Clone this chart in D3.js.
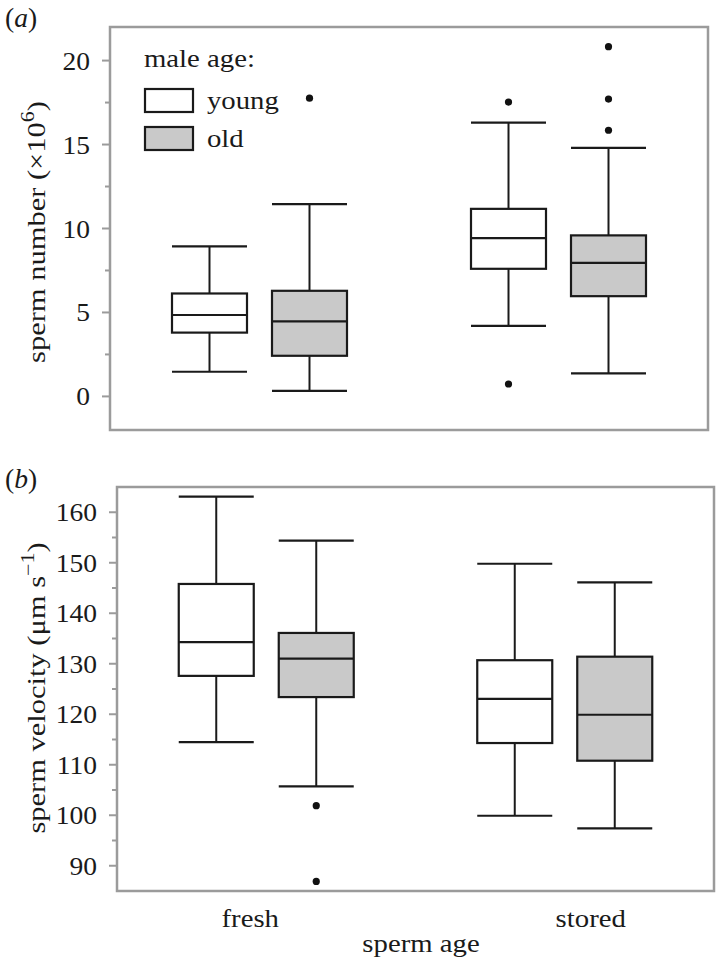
<!DOCTYPE html>
<html>
<head>
<meta charset="utf-8">
<script src="https://cdn.jsdelivr.net/npm/d3@7"></script>
<style>
  html, body { margin: 0; padding: 0; background: #fff; }
  svg { display: block; }
  text { font-family: "Liberation Serif", "Times New Roman", serif; fill: #1a1a1a; }
</style>
</head>
<body>
<script>
// ---------- DATA ----------
const categories = ["fresh", "stored"];
const groups = ["young", "old"];
// order of boxes: fresh-young, fresh-old, stored-young, stored-old
const boxCategory = ["fresh", "fresh", "stored", "stored"];
const boxGroup = ["young", "old", "young", "old"];

// (a) sperm number (x10^6)
const numberLow = [1.47, 0.33, 4.2, 1.37];
const numberQ1 = [3.8, 2.42, 7.6, 5.97];
const numberMedian = [4.85, 4.47, 9.43, 7.95];
const numberQ3 = [6.13, 6.29, 11.17, 9.59];
const numberHigh = [8.94, 11.45, 16.3, 14.8];
const numberOutliers = [[], [17.76], [17.53, 0.74], [20.83, 17.71, 15.85]];
const numberTicks = [0, 5, 10, 15, 20];
const numberMinorTicks = [2.5, 7.5, 12.5, 17.5];

// (b) sperm velocity (um/s)
const velocityLow = [114.5, 105.7, 99.9, 97.4];
const velocityQ1 = [127.6, 123.4, 114.3, 110.8];
const velocityMedian = [134.3, 131.0, 123.05, 119.9];
const velocityQ3 = [145.8, 136.1, 130.7, 131.4];
const velocityHigh = [163.1, 154.4, 149.8, 146.1];
const velocityOutliers = [[], [101.9, 86.9], [], []];
const velocityTicks = [90, 100, 110, 120, 130, 140, 150, 160];
const velocityMinorTicks = [95, 105, 115, 125, 135, 145, 155];

const legendLabels = ["young", "old"];
const xLabels = ["fresh", "stored"];
const xLabelShift = [-16, 26];

// ---------- STYLE ----------
const W = 718, H = 960;
const frameColor = "#9b9b9b";
const ink = "#1a1a1a";
const fills = { young: "#ffffff", old: "#c9c9c9" };
const FS = 25;

const svg = d3.select("body").append("svg").attr("width", W).attr("height", H);

function stext(parent, x, y, sx, rot, size) {
  return parent.append("text")
    .attr("transform", `translate(${x},${y}) rotate(${rot || 0}) scale(${sx},1)`)
    .attr("font-size", size || FS);
}

function panel(cfg) {
  const g = svg.append("g");
  const x = d3.scaleBand().domain(categories).range([cfg.x0, cfg.x1]).padding(0);
  const sub = d3.scaleBand().domain(groups).range([-100, 100]).padding(0);
  const y = d3.scaleLinear().domain(cfg.domain).range([cfg.y1, cfg.y0]);
  const bw = sub.bandwidth() * 0.75;

  // frame
  g.append("rect").attr("x", cfg.x0).attr("y", cfg.y0)
    .attr("width", cfg.x1 - cfg.x0).attr("height", cfg.y1 - cfg.y0)
    .attr("fill", "none").attr("stroke", frameColor).attr("stroke-width", 2.5);

  // ticks
  g.selectAll(".maj").data(cfg.ticks).enter().append("line")
    .attr("x1", cfg.x0 - 8).attr("x2", cfg.x0).attr("y1", d => y(d)).attr("y2", d => y(d))
    .attr("stroke", frameColor).attr("stroke-width", 2);
  g.selectAll(".min").data(cfg.minor).enter().append("line")
    .attr("x1", cfg.x0 - 5).attr("x2", cfg.x0).attr("y1", d => y(d)).attr("y2", d => y(d))
    .attr("stroke", frameColor).attr("stroke-width", 2);
  cfg.ticks.forEach(t => {
    stext(g, cfg.x0 - 20, y(t) + 9, 1.1).attr("text-anchor", "end").text(t);
  });

  // boxes
  cfg.low.forEach((lo, i) => {
    const cx = x(boxCategory[i]) + x.bandwidth() / 2 + sub(boxGroup[i]) + sub.bandwidth() / 2;
    const bg = g.append("g");
    // whiskers
    bg.append("line").attr("x1", cx).attr("x2", cx).attr("y1", y(cfg.high[i])).attr("y2", y(cfg.q3[i]))
      .attr("stroke", ink).attr("stroke-width", 2);
    bg.append("line").attr("x1", cx).attr("x2", cx).attr("y1", y(cfg.q1[i])).attr("y2", y(lo))
      .attr("stroke", ink).attr("stroke-width", 2);
    [cfg.high[i], lo].forEach(v => {
      bg.append("line").attr("x1", cx - bw / 2).attr("x2", cx + bw / 2).attr("y1", y(v)).attr("y2", y(v))
        .attr("stroke", ink).attr("stroke-width", 2.2);
    });
    bg.append("rect").attr("x", cx - bw / 2).attr("y", y(cfg.q3[i]))
      .attr("width", bw).attr("height", y(cfg.q1[i]) - y(cfg.q3[i]))
      .attr("fill", fills[boxGroup[i]]).attr("stroke", ink).attr("stroke-width", 2.2);
    bg.append("line").attr("x1", cx - bw / 2).attr("x2", cx + bw / 2)
      .attr("y1", y(cfg.median[i])).attr("y2", y(cfg.median[i]))
      .attr("stroke", ink).attr("stroke-width", 2.2);
    cfg.outliers[i].forEach(v => {
      bg.append("circle").attr("cx", cx).attr("cy", y(v)).attr("r", 3.6).attr("fill", "#111");
    });
  });
  return { g, x, y };
}

// ---------- PANEL A ----------
const pa = panel({
  x0: 110, x1: 708, y0: 27, y1: 430, domain: [-2, 22],
  ticks: numberTicks, minor: numberMinorTicks,
  low: numberLow, q1: numberQ1, median: numberMedian, q3: numberQ3, high: numberHigh,
  outliers: numberOutliers
});

// ---------- PANEL B ----------
const pb = panel({
  x0: 117, x1: 714, y0: 487, y1: 891, domain: [85, 165],
  ticks: velocityTicks, minor: velocityMinorTicks,
  low: velocityLow, q1: velocityQ1, median: velocityMedian, q3: velocityQ3, high: velocityHigh,
  outliers: velocityOutliers
});

// panel letters
const la = stext(svg, 5, 27, 1.02, 0, 27);
la.append("tspan").text("(");
la.append("tspan").attr("font-style", "italic").text("a");
la.append("tspan").text(")");
const lb = stext(svg, 5, 488, 1.02, 0, 27);
lb.append("tspan").text("(");
lb.append("tspan").attr("font-style", "italic").text("b");
lb.append("tspan").text(")");

// y titles
const ta = stext(svg, 45, 232, 1.22, -90).attr("text-anchor", "middle");
ta.append("tspan").text("sperm number (×10");
ta.append("tspan").attr("font-size", 18).attr("dy", -11).text("6");
ta.append("tspan").attr("dy", 11).text(")");

const tb = stext(svg, 45, 688, 1.22, -90).attr("text-anchor", "middle");
tb.append("tspan").text("sperm velocity (μm s");
tb.append("tspan").attr("font-size", 18).attr("dy", -11).text("−1");
tb.append("tspan").attr("dy", 11).text(")");

// x labels
xLabels.forEach((lab, i) => {
  const cx = pb.x(categories[i]) + pb.x.bandwidth() / 2 + xLabelShift[i];
  stext(svg, cx, 927, 1.15).attr("text-anchor", "middle").text(lab);
});
stext(svg, 421, 952, 1.15).attr("text-anchor", "middle").text("sperm age");

// legend
stext(svg, 144, 67, 1.15).text("male age:");
legendLabels.forEach((lab, i) => {
  const yy = 89 + i * 38;
  svg.append("rect").attr("x", 145).attr("y", yy).attr("width", 48).attr("height", 23)
    .attr("fill", fills[lab]).attr("stroke", ink).attr("stroke-width", 2.2);
  stext(svg, 207, yy + 20, 1.15).text(lab);
});
</script>
</body>
</html>
